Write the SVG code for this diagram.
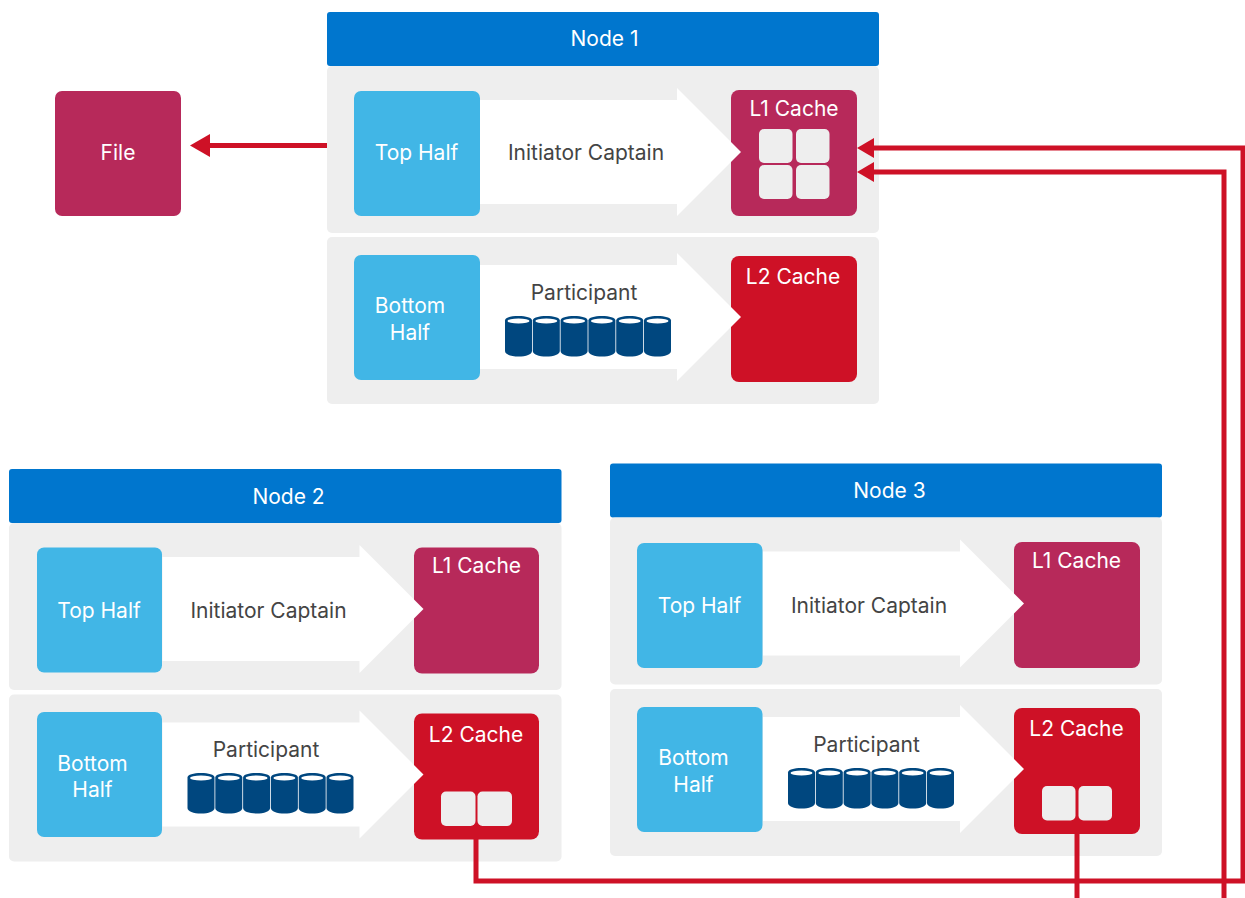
<svg xmlns="http://www.w3.org/2000/svg" width="1245" height="898" viewBox="0 0 1245 898">
<style>
text{font-family:Inter,Roboto,"Liberation Sans",sans-serif;font-size:21px;text-anchor:middle}
.w{fill:#fff}.d{fill:#444}
.head{fill:#0076ce}.panel{fill:#eeeeee}.half{fill:#41b6e6}.l1{fill:#b7295a}.l2{fill:#ce1126}.arr{fill:#fff}.sq{fill:#eeeeee}
.wire{fill:none;stroke:#ce1126;stroke-width:5}
</style>
<defs>
<marker id="ah" markerUnits="userSpaceOnUse" markerWidth="18" markerHeight="22" refX="3" refY="11" orient="auto"><path d="M0 1L17 11L0 21Z" fill="#ce1126"/></marker>
<marker id="ahb" markerUnits="userSpaceOnUse" markerWidth="21" markerHeight="24" refX="3" refY="12" orient="auto"><path d="M0 0.500L20 12L0 23.500Z" fill="#ce1126"/></marker>
<path id="arrow" d="M0 12H197V0L261 64L197 128V116H0Z"/>
<g id="cyl"><path d="M0 4.500C0 1.500 6 0 13.500 0S27 1.500 27 4.500V35C27 38.500 21 40.500 13.500 40.500S0 38.500 0 35Z" fill="#00477f"/><ellipse cx="13.500" cy="5" rx="11" ry="2.600" fill="#fff"/></g>
<g id="cyls"><use href="#cyl" x="0"/><use href="#cyl" x="27.800"/><use href="#cyl" x="55.600"/><use href="#cyl" x="83.400"/><use href="#cyl" x="111.200"/><use href="#cyl" x="139"/></g>
</defs>
<g id="file"><rect x="55" y="91" width="126" height="125" rx="7" class="l1"/><text x="118" y="160" class="w">File</text></g>

<g id="node1">
<rect x="327" y="12" width="552" height="54" rx="3" class="head"/><text x="604.500" y="46" class="w">Node 1</text>
<rect x="327" y="66" width="552" height="167" rx="5" class="panel"/><rect x="327" y="237" width="552" height="167" rx="5" class="panel"/>
<rect x="731" y="90" width="126" height="126" rx="8" class="l1"/><use href="#arrow" x="480" y="88" class="arr"/>
<rect x="354" y="91" width="126" height="125" rx="7" class="half"/>
<text x="416.500" y="160" class="w">Top Half</text><text x="586" y="160" class="d">Initiator Captain</text><text x="794" y="116" class="w">L1 Cache</text>
<rect x="759" y="129" width="33.500" height="34" rx="5" class="sq"/><rect x="796" y="129" width="33.500" height="34" rx="5" class="sq"/><rect x="759" y="165" width="33.500" height="34" rx="5" class="sq"/><rect x="796" y="165" width="33.500" height="34" rx="5" class="sq"/>
<rect x="731" y="256" width="126" height="126" rx="8" class="l2"/><use href="#arrow" x="480" y="253" class="arr"/>
<rect x="354" y="255" width="126" height="125" rx="7" class="half"/>
<text x="410" y="313" class="w">Bottom</text><text x="410" y="340" class="w">Half</text><text x="584" y="300" class="d">Participant</text><use href="#cyls" x="505" y="316"/><text x="793" y="284" class="w">L2 Cache</text>
</g>

<g id="node2">
<rect x="9" y="469" width="552.500" height="54" rx="3" class="head"/><text x="288.500" y="504" class="w">Node 2</text>
<rect x="9" y="523" width="552.500" height="167" rx="5" class="panel"/><rect x="9" y="694.500" width="552.500" height="167" rx="5" class="panel"/>
<rect x="414" y="547.500" width="125" height="126" rx="8" class="l1"/><use href="#arrow" x="162.500" y="545" class="arr"/>
<rect x="37" y="547.500" width="125" height="125" rx="7" class="half"/>
<text x="99" y="618" class="w">Top Half</text><text x="268.500" y="618" class="d">Initiator Captain</text><text x="476.500" y="573" class="w">L1 Cache</text>
<rect x="414" y="713.500" width="125" height="126" rx="8" class="l2"/><use href="#arrow" x="162.500" y="710.500" class="arr"/>
<rect x="37" y="712" width="125" height="125" rx="7" class="half"/>
<text x="92.500" y="771" class="w">Bottom</text><text x="92.500" y="797" class="w">Half</text><text x="266" y="757" class="d">Participant</text><use href="#cyls" x="187.500" y="773"/><text x="476" y="742" class="w">L2 Cache</text>
<rect x="441" y="791.500" width="34.500" height="34.500" rx="5" class="sq"/><rect x="477.500" y="791.500" width="34.500" height="34.500" rx="5" class="sq"/>
</g>

<g id="node3">
<rect x="610" y="463.500" width="552" height="54" rx="3" class="head"/><text x="889.500" y="498" class="w">Node 3</text>
<rect x="610" y="517.500" width="552" height="167" rx="5" class="panel"/><rect x="610" y="689" width="552" height="167" rx="5" class="panel"/>
<rect x="1014" y="542" width="126" height="126" rx="8" class="l1"/><use href="#arrow" x="763" y="539.500" class="arr"/>
<rect x="637" y="543" width="125.500" height="125" rx="7" class="half"/>
<text x="699.500" y="613" class="w">Top Half</text><text x="869" y="613" class="d">Initiator Captain</text><text x="1076.500" y="568" class="w">L1 Cache</text>
<rect x="1014" y="708" width="126" height="126" rx="8" class="l2"/><use href="#arrow" x="763" y="705" class="arr"/>
<rect x="637" y="707" width="125.500" height="125" rx="7" class="half"/>
<text x="693.500" y="765" class="w">Bottom</text><text x="693.500" y="792" class="w">Half</text><text x="866.500" y="752" class="d">Participant</text><use href="#cyls" x="788" y="768"/><text x="1076.500" y="736" class="w">L2 Cache</text>
<rect x="1042" y="786" width="33.500" height="34.500" rx="5" class="sq"/><rect x="1078.500" y="786" width="33.500" height="34.500" rx="5" class="sq"/>
</g>

<g id="connectors">
<path class="wire" d="M327 145.500H207" marker-end="url(#ahb)"/>
<path class="wire" d="M476 838V881H1243V148H871" marker-end="url(#ah)"/>
<path class="wire" d="M1224 898V172H871" marker-end="url(#ah)"/>
<path class="wire" d="M1077 834V898"/>
</g>
</svg>
